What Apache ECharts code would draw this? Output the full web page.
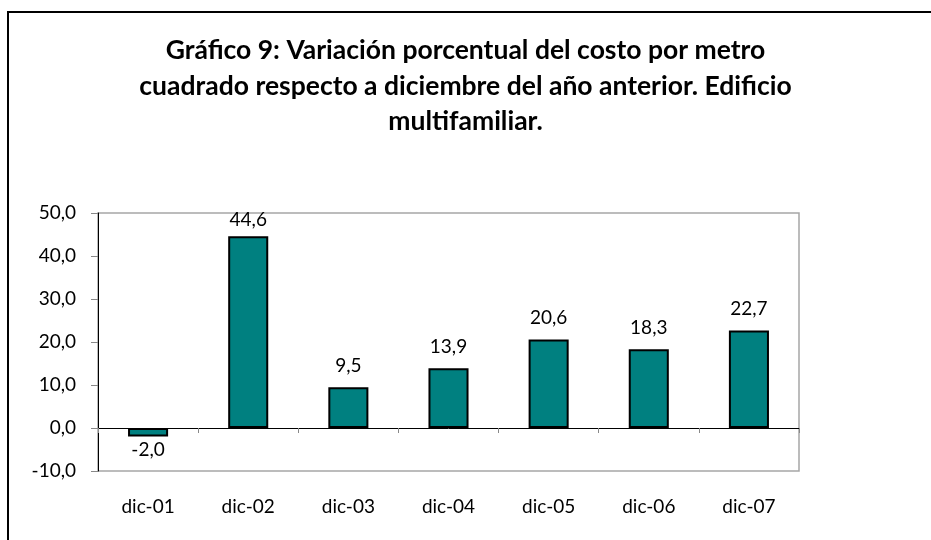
<!DOCTYPE html>
<html>
<head>
<meta charset="utf-8">
<script src="https://cdn.jsdelivr.net/npm/echarts@6/dist/echarts.min.js"></script>
<style>
  html, body { margin: 0; padding: 0; background: #fff; }
  #chart { width: 931px; height: 540px; }
</style>
</head>
<body>
<div id="chart"></div>
<script>
var categories = ['dic-01', 'dic-02', 'dic-03', 'dic-04', 'dic-05', 'dic-06', 'dic-07'];
var values = [-2.0, 44.6, 9.5, 13.9, 20.6, 18.3, 22.7];
var titleText = 'Gráfico 9: Variación porcentual del costo por metro\ncuadrado respecto a diciembre del año anterior. Edificio\nmultifamiliar.';

function fmt(v){
	return v.toFixed(1).replace('.', ',');
}

var chart = echarts.init(document.getElementById('chart'));

var barData = values.map(function(v){
	if (v < 0) {
		return { value: v, label: { position: 'bottom', distance: 4 } };
	}
	if (v > 40) {
		return { value: v, label: { distance: 7 } };
	}
	return v;
});

var option = {
	backgroundColor: '#fff',
	textStyle: { fontFamily: 'Lato', color: '#000' },
	title: {
		text: titleText,
		left: 'center',
		top: 28,
		textStyle: { fontFamily: 'Lato', fontWeight: 'bold', fontSize: 26.5, lineHeight: 35.5, color: '#000' }
	},
	graphic: [{
		type: 'rect',
		shape: { x: 8, y: 12, width: 960, height: 600 },
		style: { fill: 'none', stroke: '#000', lineWidth: 2 },
		silent: true
	}],
	grid: {
		left: 98, right: 132, top: 213, bottom: 69,
		show: true, borderColor: '#a6a6a6', borderWidth: 1.5, backgroundColor: 'transparent'
	},
	xAxis: [{
		type: 'category',
		data: categories,
		axisLine: { onZero: true, lineStyle: { color: '#000', width: 1 } },
		axisTick: { show: true, length: 5, lineStyle: { color: '#888' } },
		axisLabel: { show: false },
		splitLine: { show: false }
	}, {
		type: 'category',
		data: categories,
		position: 'bottom',
		axisLine: { show: false, onZero: false },
		axisTick: { show: false },
		axisLabel: { margin: 26, fontSize: 19, color: '#000', fontFamily: 'Lato' }
	}],
	yAxis: {
		type: 'value',
		min: -10, max: 50, interval: 10,
		axisLine: { show: true, lineStyle: { color: '#000', width: 1 } },
		axisTick: { show: true, length: 7, lineStyle: { color: '#888' } },
		splitLine: { show: false },
		axisLabel: { fontSize: 19, color: '#000', margin: 22, fontFamily: 'Lato', formatter: function(v){ return fmt(v); } }
	},
	series: [{
		type: 'bar',
		xAxisIndex: 0,
		data: barData,
		barWidth: '40%',
		itemStyle: { color: '#008080', borderColor: '#000', borderWidth: 2 },
		label: {
			show: true, position: 'top', distance: 12, fontSize: 19, color: '#000', fontFamily: 'Lato',
			formatter: function(p){ return fmt(p.value); }
		}
	}]
};

chart.setOption(option);
</script>
</body>
</html>
